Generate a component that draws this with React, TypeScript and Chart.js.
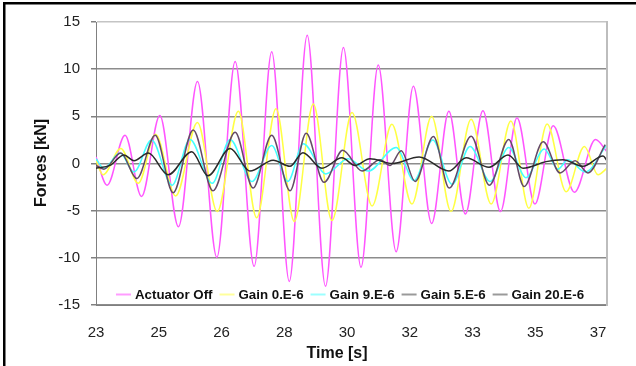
import React, { useEffect, useRef } from "react";
import { Chart, registerables } from "chart.js";

Chart.register(...registerables);

// ---- axis data ----
const xTickValues = [23, 24.75, 26.5, 28.25, 30, 31.75, 33.5, 35.25, 37];
const xTickLabels = ["23", "25", "26", "28", "30", "32", "33", "35", "37"];
const seriesNames = ["Actuator Off", "Gain 0.E-6", "Gain 9.E-6", "Gain 5.E-6", "Gain 20.E-6"];

// ---- series (time [s], force [kN]) read at the turning points ----
const offTime = [23.0, 23.31, 23.81, 24.27, 24.78, 25.3, 25.83, 26.37, 26.88, 27.41, 27.9, 28.39, 28.89, 29.4, 29.9, 30.39, 30.87, 31.37, 31.85, 32.36, 32.84, 33.3, 33.79, 34.28, 34.74, 35.24, 35.75, 36.34, 36.93, 37.25];
const offForce = [0.7, -2.3, 3.0, -3.5, 5.1, -6.7, 8.7, -9.95, 10.8, -10.9, 11.85, -12.5, 13.6, -13.0, 12.3, -11.0, 10.45, -9.35, 8.2, -6.35, 5.55, -5.35, 5.6, -5.1, 4.85, -4.3, 4.0, -3.05, 2.55, 1.25];

const g0Time = [23.0, 23.2, 23.69, 24.18, 24.66, 25.22, 25.83, 26.38, 26.97, 27.48, 28.02, 28.53, 29.06, 29.58, 30.14, 30.7, 31.25, 31.81, 32.36, 32.9, 33.46, 34.02, 34.57, 35.07, 35.58, 36.11, 36.62, 37.0, 37.25];
const g0Force = [0.3, -1.2, 1.6, -2.1, 3.1, -3.45, 4.35, -5.1, 5.55, -5.75, 5.8, -6.15, 6.3, -6.05, 5.4, -4.5, 4.15, -4.3, 5.0, -5.1, 4.7, -4.3, 4.5, -4.75, 4.2, -3.0, 1.8, -1.2, -0.5];

const g9Time = [23.0, 23.22, 23.67, 24.06, 24.55, 25.12, 25.62, 26.24, 26.74, 27.35, 27.9, 28.35, 28.78, 29.41, 30.03, 30.59, 31.37, 31.87, 32.39, 32.93, 33.43, 33.99, 34.51, 34.99, 35.5, 35.88, 36.16, 36.64, 37.25];
const g9Force = [0.5, -0.5, 1.1, -0.9, 2.5, -2.3, 2.55, -2.1, 2.55, -1.9, 1.9, -1.9, 2.1, -1.1, 0.5, -0.8, 1.7, -1.8, 2.5, -2.2, 1.8, -1.9, 1.7, -1.5, 1.55, -0.6, 0.4, -0.9, 2.0];

const g5Time = [23.0, 23.22, 23.69, 24.14, 24.65, 25.15, 25.71, 26.26, 26.88, 27.38, 27.9, 28.41, 28.86, 29.36, 29.88, 30.42, 30.92, 31.2, 31.51, 31.9, 32.41, 32.85, 33.46, 33.97, 34.51, 34.94, 35.47, 35.94, 36.36, 36.72, 37.2];
const g5Force = [-0.2, -0.6, 1.1, -1.6, 3.0, -3.1, 3.55, -2.9, 3.3, -2.6, 3.0, -2.9, 3.2, -2.0, 1.4, -0.8, 0.4, -0.2, 1.35, -1.9, 2.85, -2.6, 2.9, -2.3, 2.55, -2.45, 2.3, -1.0, 0.3, -1.0, 2.0];

const g20Time = [23.0, 23.39, 23.78, 24.06, 24.46, 25.01, 25.67, 26.12, 26.74, 27.29, 27.94, 28.41, 28.77, 29.3, 29.86, 30.22, 30.64, 31.26, 32.01, 32.84, 33.32, 33.96, 34.49, 34.91, 35.55, 36.02, 36.58, 37.14, 37.25];
const g20Force = [-0.5, -0.2, 0.9, 0.3, 1.1, -1.2, 1.25, -1.3, 1.6, -0.8, 0.35, -0.3, 1.15, -0.5, 0.6, -0.2, 0.5, 0.0, 0.7, -0.8, 0.6, -0.4, 0.9, -0.5, 0.2, 0.4, -0.3, 0.8, 0.3];

const lineColors = ["#ff55ff", "#ffff44", "#44ffff", "#644a66", "#2a2a2a"];
const legendColors = ["#ff9cff", "#ffff9c", "#9cffff", "#9a9a9a", "#9a9a9a"];

const seriesTimes = [offTime, g0Time, g9Time, g5Time, g20Time];
const seriesForces = [offForce, g0Force, g9Force, g5Force, g20Force];

const decorPlugin = {
  id: "decor",
  beforeDraw(chart: any) {
    const ctx = chart.ctx;
    ctx.save();
    ctx.fillStyle = "#ffffff";
    ctx.fillRect(0, 0, chart.width, chart.height);
    ctx.fillStyle = "#000000";
    ctx.fillRect(3, 2, chart.width - 3, 2.5);
    ctx.fillRect(3, 2, 2.5, chart.height - 2);
    ctx.restore();
  },
  afterDraw(chart: any) {
    const ctx = chart.ctx;
    const a = chart.chartArea;
    ctx.save();
    // right border of plot
    ctx.strokeStyle = "#bdbdbd";
    ctx.lineWidth = 2;
    ctx.beginPath();
    ctx.moveTo(a.right, a.top - 1);
    ctx.lineTo(a.right, a.bottom + 1);
    ctx.stroke();

    // legend inside plot
    ctx.font = "bold 13.3px 'Liberation Sans', Arial, sans-serif";
    ctx.textBaseline = "middle";
    ctx.textAlign = "left";
    const sample = 15;
    const gap1 = 4;
    const gap2 = 7;
    let total = 0;
    const widths = seriesNames.map((n) => ctx.measureText(n).width);
    widths.forEach((w, i) => {
      total += sample + gap1 + w + (i < widths.length - 1 ? gap2 : 0);
    });
    let x = (a.left + a.right) / 2 - 1.5 - total / 2;
    const ly = 294.5;
    seriesNames.forEach((n, i) => {
      ctx.strokeStyle = legendColors[i];
      ctx.lineWidth = 2;
      ctx.beginPath();
      ctx.moveTo(x, ly);
      ctx.lineTo(x + sample, ly);
      ctx.stroke();
      x += sample + gap1;
      ctx.fillStyle = "#111111";
      ctx.fillText(n, x, ly + 0.5);
      x += widths[i] + gap2;
    });

    // axis titles
    ctx.font = "bold 16px 'Liberation Sans', Arial, sans-serif";
    ctx.fillStyle = "#111111";
    ctx.textAlign = "center";
    ctx.fillText("Time [s]", 337, 354);
    ctx.translate(42, 163);
    ctx.rotate(-Math.PI / 2);
    ctx.fillText("Forces [kN]", 0, 0);
    ctx.restore();
  },
};

export default function App() {
  const canvasRef = useRef<HTMLCanvasElement | null>(null);

  useEffect(() => {
    if (!canvasRef.current) return;
    const datasets = seriesNames.map((name, i) => ({
      label: name,
      data: seriesTimes[i].map((t, j) => ({ x: t, y: seriesForces[i][j] })),
      borderColor: lineColors[i],
      backgroundColor: lineColors[i],
      borderWidth: 1.5,
      pointRadius: 0,
      cubicInterpolationMode: "monotone" as const,
      fill: false,
      order: seriesNames.length - i,
    }));

    const chart = new Chart(canvasRef.current, {
      type: "line",
      data: { datasets },
      options: {
        responsive: false,
        animation: false,
        devicePixelRatio: 1,
        layout: { padding: { top: 22, right: 29, left: 0, bottom: 0 } },
        plugins: {
          legend: { display: false },
          tooltip: { enabled: false },
          title: { display: false },
        },
        scales: {
          x: {
            type: "linear",
            min: 23,
            max: 37.25,
            afterBuildTicks: (s: any) => {
              s.ticks = xTickValues.map((v) => ({ value: v }));
            },
            afterFit: (s: any) => {
              s.height = 61;
            },
            grid: { display: false, drawTicks: false },
            border: { display: true, color: "#808080", width: 1 },
            ticks: {
              autoSkip: false,
              maxRotation: 0,
              padding: 19,
              color: "#222222",
              font: { family: "'Liberation Sans', Arial, sans-serif", size: 15 },
              callback: (_v: any, idx: number) => xTickLabels[idx],
            },
          },
          y: {
            type: "linear",
            min: -15,
            max: 15,
            afterFit: (s: any) => {
              s.width = 96;
            },
            grid: {
              color: (c: any) => (c.tick && c.tick.value === 15 ? "#c4c4c4" : "#8c8c8c"),
              lineWidth: 1.5,
              drawTicks: true,
              tickLength: 5,
              tickColor: "#808080",
            },
            border: { display: true, color: "#808080", width: 1 },
            ticks: {
              stepSize: 5,
              padding: 11,
              color: "#222222",
              font: { family: "'Liberation Sans', Arial, sans-serif", size: 15 },
            },
          },
        },
      },
      plugins: [decorPlugin],
    });
    return () => chart.destroy();
  }, []);

  return (
    <div style={{ position: "fixed", left: 0, top: 0, width: 636, height: 366 }}>
      <canvas ref={canvasRef} width={636} height={366} style={{ display: "block" }} />
    </div>
  );
}
